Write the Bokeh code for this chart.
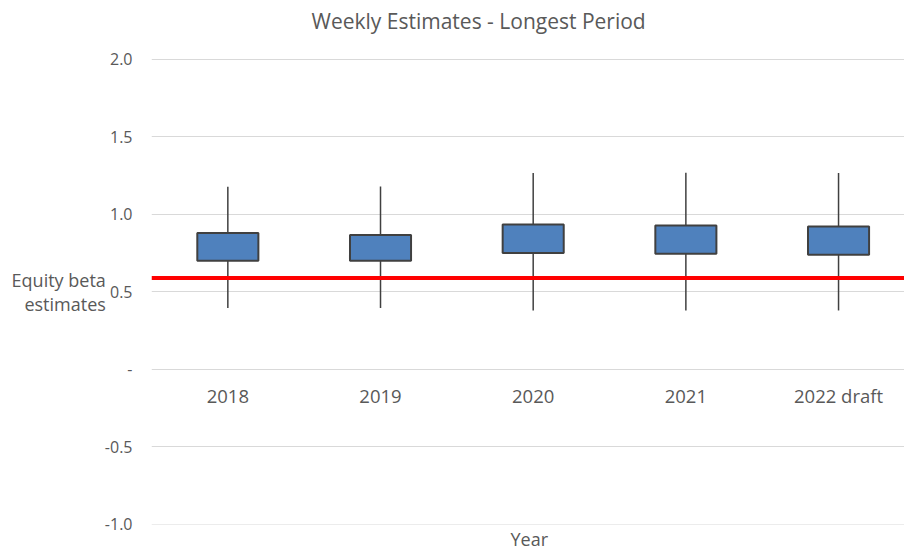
from bokeh.plotting import figure
from bokeh.models import Range1d, FixedTicker, Span, Title, ColumnDataSource
from bokeh.embed import file_html
from bokeh.resources import INLINE

# ---- data ----
years = ["2018", "2019", "2020", "2021", "2022 draft"]
low = [0.395, 0.395, 0.379, 0.379, 0.379]
q1 = [0.700, 0.700, 0.750, 0.746, 0.739]
q3 = [0.880, 0.867, 0.934, 0.928, 0.922]
high = [1.178, 1.180, 1.266, 1.269, 1.266]
benchmark = 0.588
y_ticks = [-1.0, -0.5, 0.0, 0.5, 1.0, 1.5, 2.0]
y_tick_labels = ["-1.0", "-0.5", "-", "0.5", "1.0", "1.5", "2.0"]

xs = list(range(len(years)))
src = ColumnDataSource(dict(x=xs, low=low, q1=q1, q3=q3, high=high))

FONT = "Open Sans"
GREY = "#595959"

p = figure(width=904, height=550, output_backend="svg", toolbar_location=None,
           title=None,
           x_range=Range1d(-0.5, 4.432), y_range=Range1d(-1.003, 2.006),
           min_border_left=151, min_border_right=0, min_border_top=0,
           min_border_bottom=26)
p.outline_line_color = None
p.background_fill_color = "white"

# spacer between title and plot area (closest to the frame), then the title
p.add_layout(Title(text=" ", text_font=FONT, text_font_size="12px",
                   standoff=0), "above")
p.add_layout(Title(text="Weekly Estimates - Longest Period", align="left",
                   offset=160, text_font=FONT, text_font_size="21px",
                   text_font_style="normal", text_color=GREY, standoff=9),
             "above")

# whiskers and boxes
p.segment(x0="x", y0="low", x1="x", y1="high", source=src,
          line_color="#404040", line_width=1.5)
p.vbar(x="x", width=0.4, bottom="q1", top="q3", source=src,
       fill_color="#4F81BD", line_color="#404040", line_width=2)

# benchmark line
p.add_layout(Span(location=benchmark, dimension="width",
                  line_color="#FF0000", line_width=4))

# y axis
p.yaxis.ticker = FixedTicker(ticks=y_ticks)
p.yaxis.major_label_overrides = {t: l for t, l in zip(y_ticks, y_tick_labels)}
p.yaxis.axis_line_color = None
p.yaxis.major_tick_line_color = None
p.yaxis.minor_tick_line_color = None
p.yaxis.major_label_standoff = 13
p.yaxis.major_label_text_font = FONT
p.yaxis.major_label_text_font_size = "16px"
p.yaxis.major_label_text_color = GREY
p.yaxis.axis_label = "Equity beta\nestimates"
p.yaxis.axis_label_orientation = "horizontal"
p.yaxis.axis_label_standoff = -4
p.yaxis.axis_label_text_font = FONT
p.yaxis.axis_label_text_font_size = "18px"
p.yaxis.axis_label_text_font_style = "normal"
p.yaxis.axis_label_text_line_height = 1.0
p.yaxis.axis_label_text_color = GREY

# x axis at zero
p.xaxis.fixed_location = 0
p.xaxis.ticker = FixedTicker(ticks=xs)
p.xaxis.major_label_overrides = {i: y for i, y in zip(xs, years)}
p.xaxis.axis_line_color = None
p.xaxis.major_tick_line_color = None
p.xaxis.minor_tick_line_color = None
p.xaxis.major_label_standoff = 8
p.xaxis.major_label_text_font = FONT
p.xaxis.major_label_text_font_size = "18.5px"
p.xaxis.major_label_text_color = GREY

# grids
p.xgrid.visible = False
p.ygrid.ticker = FixedTicker(ticks=y_ticks)
p.ygrid.grid_line_color = "#D9D9D9"
p.ygrid.grid_line_width = 1

# x axis title
p.add_layout(Title(text="Year", align="left", offset=359, text_font=FONT,
                   text_font_size="18px", text_font_style="normal",
                   text_color=GREY, standoff=0), "below")

open("out.html", "w").write(file_html(p, INLINE))
